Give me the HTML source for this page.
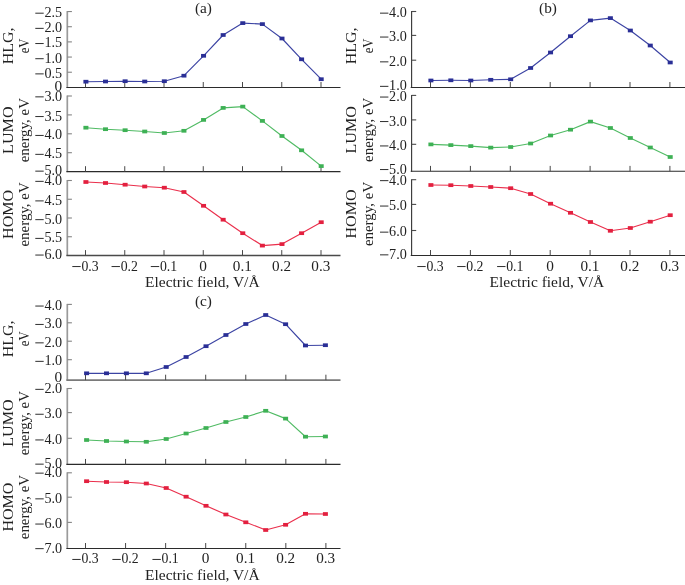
<!DOCTYPE html>
<html><head><meta charset="utf-8"><title>Figure</title>
<style>
html,body{margin:0;padding:0;background:#fff;}
body{width:685px;height:585px;overflow:hidden;}
svg{display:block;will-change:transform;}
svg text{font-family:"Liberation Serif",serif;fill:#222222;}
</style></head><body>
<svg width="685" height="585" viewBox="0 0 685 585">
<rect width="685" height="585" fill="#ffffff"/>
<line x1="67.3" y1="11.05" x2="67.3" y2="87.9" stroke="#9a9a9a" stroke-width="1.7"/>
<line x1="66.39999999999999" y1="87.4" x2="340.5" y2="87.4" stroke="#2b2b2b" stroke-width="1.05"/>
<line x1="67.3" y1="11.55" x2="71.89999999999999" y2="11.55" stroke="#858585" stroke-width="1.1"/>
<line x1="35.30" y1="13.20" x2="43.70" y2="13.20" stroke="#2e2e2e" stroke-width="1"/>
<text x="62.1" y="17.15" text-anchor="end" font-size="15.3" textLength="17.7" lengthAdjust="spacingAndGlyphs">2.5</text>
<line x1="67.3" y1="26.720000000000002" x2="71.89999999999999" y2="26.720000000000002" stroke="#858585" stroke-width="1.1"/>
<line x1="35.30" y1="28.37" x2="43.70" y2="28.37" stroke="#2e2e2e" stroke-width="1"/>
<text x="62.1" y="32.32" text-anchor="end" font-size="15.3" textLength="17.7" lengthAdjust="spacingAndGlyphs">2.0</text>
<line x1="67.3" y1="41.89" x2="71.89999999999999" y2="41.89" stroke="#858585" stroke-width="1.1"/>
<line x1="35.30" y1="43.54" x2="43.70" y2="43.54" stroke="#2e2e2e" stroke-width="1"/>
<text x="62.1" y="47.49" text-anchor="end" font-size="15.3" textLength="17.7" lengthAdjust="spacingAndGlyphs">1.5</text>
<line x1="67.3" y1="57.06" x2="71.89999999999999" y2="57.06" stroke="#858585" stroke-width="1.1"/>
<line x1="35.30" y1="58.71" x2="43.70" y2="58.71" stroke="#2e2e2e" stroke-width="1"/>
<text x="62.1" y="62.66" text-anchor="end" font-size="15.3" textLength="17.7" lengthAdjust="spacingAndGlyphs">1.0</text>
<line x1="67.3" y1="72.23" x2="71.89999999999999" y2="72.23" stroke="#858585" stroke-width="1.1"/>
<line x1="35.30" y1="73.88" x2="43.70" y2="73.88" stroke="#2e2e2e" stroke-width="1"/>
<text x="62.1" y="77.83" text-anchor="end" font-size="15.3" textLength="17.7" lengthAdjust="spacingAndGlyphs">0.5</text>
<text x="62.1" y="90.9" text-anchor="end" font-size="15.3">0</text>
<line x1="85.5" y1="87.4" x2="85.5" y2="82.0" stroke="#484848" stroke-width="1.0"/>
<line x1="124.75" y1="87.4" x2="124.75" y2="82.0" stroke="#484848" stroke-width="1.0"/>
<line x1="164.0" y1="87.4" x2="164.0" y2="82.0" stroke="#484848" stroke-width="1.0"/>
<line x1="203.25" y1="87.4" x2="203.25" y2="82.0" stroke="#484848" stroke-width="1.0"/>
<line x1="242.5" y1="87.4" x2="242.5" y2="82.0" stroke="#484848" stroke-width="1.0"/>
<line x1="281.75" y1="87.4" x2="281.75" y2="82.0" stroke="#484848" stroke-width="1.0"/>
<line x1="321.0" y1="87.4" x2="321.0" y2="82.0" stroke="#484848" stroke-width="1.0"/>
<text x="13.0" y="45.88" text-anchor="middle" font-size="15.3" transform="rotate(-90 13.0 45.88)" textLength="36.9" lengthAdjust="spacingAndGlyphs">HLG,</text>
<text x="29.2" y="45.88" text-anchor="middle" font-size="15.3" transform="rotate(-90 29.2 45.88)" textLength="14.8" lengthAdjust="spacingAndGlyphs">eV</text>
<polyline points="85.9,81.7 105.50833333333334,81.5 125.11666666666667,81.2 144.725,81.5 164.33333333333331,81.2 183.94166666666666,75.7 203.55,55.8 223.15833333333333,35 242.76666666666665,23.1 262.375,24.1 281.98333333333335,38.5 301.59166666666664,59.3 321.2,79.2" fill="none" stroke="#3b43a3" stroke-width="1.15" stroke-linejoin="round"/>
<rect x="83.40" y="79.85" width="5.0" height="3.7" fill="#2a2f96"/>
<rect x="103.01" y="79.65" width="5.0" height="3.7" fill="#2a2f96"/>
<rect x="122.62" y="79.35" width="5.0" height="3.7" fill="#2a2f96"/>
<rect x="142.22" y="79.65" width="5.0" height="3.7" fill="#2a2f96"/>
<rect x="161.83" y="79.35" width="5.0" height="3.7" fill="#2a2f96"/>
<rect x="181.44" y="73.85" width="5.0" height="3.7" fill="#2a2f96"/>
<rect x="201.05" y="53.95" width="5.0" height="3.7" fill="#2a2f96"/>
<rect x="220.66" y="33.15" width="5.0" height="3.7" fill="#2a2f96"/>
<rect x="240.27" y="21.25" width="5.0" height="3.7" fill="#2a2f96"/>
<rect x="259.88" y="22.25" width="5.0" height="3.7" fill="#2a2f96"/>
<rect x="279.48" y="36.65" width="5.0" height="3.7" fill="#2a2f96"/>
<rect x="299.09" y="57.45" width="5.0" height="3.7" fill="#2a2f96"/>
<rect x="318.70" y="77.35" width="5.0" height="3.7" fill="#2a2f96"/>
<line x1="67.3" y1="95.5" x2="67.3" y2="172.1" stroke="#9a9a9a" stroke-width="1.7"/>
<line x1="66.39999999999999" y1="171.6" x2="340.5" y2="171.6" stroke="#2b2b2b" stroke-width="1.05"/>
<line x1="67.3" y1="96.0" x2="71.89999999999999" y2="96.0" stroke="#858585" stroke-width="1.1"/>
<line x1="35.30" y1="96.85" x2="43.70" y2="96.85" stroke="#2e2e2e" stroke-width="1"/>
<text x="62.1" y="100.8" text-anchor="end" font-size="15.3" textLength="17.7" lengthAdjust="spacingAndGlyphs">3.0</text>
<line x1="67.3" y1="114.9" x2="71.89999999999999" y2="114.9" stroke="#858585" stroke-width="1.1"/>
<line x1="35.30" y1="116.55" x2="43.70" y2="116.55" stroke="#2e2e2e" stroke-width="1"/>
<text x="62.1" y="120.5" text-anchor="end" font-size="15.3" textLength="17.7" lengthAdjust="spacingAndGlyphs">3.5</text>
<line x1="67.3" y1="133.8" x2="71.89999999999999" y2="133.8" stroke="#858585" stroke-width="1.1"/>
<line x1="35.30" y1="135.45" x2="43.70" y2="135.45" stroke="#2e2e2e" stroke-width="1"/>
<text x="62.1" y="139.4" text-anchor="end" font-size="15.3" textLength="17.7" lengthAdjust="spacingAndGlyphs">4.0</text>
<line x1="67.3" y1="152.7" x2="71.89999999999999" y2="152.7" stroke="#858585" stroke-width="1.1"/>
<line x1="35.30" y1="154.35" x2="43.70" y2="154.35" stroke="#2e2e2e" stroke-width="1"/>
<text x="62.1" y="158.3" text-anchor="end" font-size="15.3" textLength="17.7" lengthAdjust="spacingAndGlyphs">4.5</text>
<line x1="35.30" y1="171.15" x2="43.70" y2="171.15" stroke="#2e2e2e" stroke-width="1"/>
<text x="62.1" y="175.1" text-anchor="end" font-size="15.3" textLength="17.7" lengthAdjust="spacingAndGlyphs">5.0</text>
<line x1="85.5" y1="171.6" x2="85.5" y2="166.2" stroke="#484848" stroke-width="1.0"/>
<line x1="124.75" y1="171.6" x2="124.75" y2="166.2" stroke="#484848" stroke-width="1.0"/>
<line x1="164.0" y1="171.6" x2="164.0" y2="166.2" stroke="#484848" stroke-width="1.0"/>
<line x1="203.25" y1="171.6" x2="203.25" y2="166.2" stroke="#484848" stroke-width="1.0"/>
<line x1="242.5" y1="171.6" x2="242.5" y2="166.2" stroke="#484848" stroke-width="1.0"/>
<line x1="281.75" y1="171.6" x2="281.75" y2="166.2" stroke="#484848" stroke-width="1.0"/>
<line x1="321.0" y1="171.6" x2="321.0" y2="166.2" stroke="#484848" stroke-width="1.0"/>
<text x="13.0" y="130.2" text-anchor="middle" font-size="15.3" transform="rotate(-90 13.0 130.2)" textLength="47.4" lengthAdjust="spacingAndGlyphs">LUMO</text>
<text x="29.2" y="130.2" text-anchor="middle" font-size="15.3" transform="rotate(-90 29.2 130.2)" textLength="64.3" lengthAdjust="spacingAndGlyphs">energy, eV</text>
<polyline points="85.9,127.7 105.50833333333334,129.2 125.11666666666667,130.2 144.725,131.5 164.33333333333331,133 183.94166666666666,130.8 203.55,119.9 223.15833333333333,107.9 242.76666666666665,106.6 262.375,120.9 281.98333333333335,136 301.59166666666664,150.3 321.2,166.1" fill="none" stroke="#50bb64" stroke-width="1.15" stroke-linejoin="round"/>
<rect x="83.40" y="125.85" width="5.0" height="3.7" fill="#3eb155"/>
<rect x="103.01" y="127.35" width="5.0" height="3.7" fill="#3eb155"/>
<rect x="122.62" y="128.35" width="5.0" height="3.7" fill="#3eb155"/>
<rect x="142.22" y="129.65" width="5.0" height="3.7" fill="#3eb155"/>
<rect x="161.83" y="131.15" width="5.0" height="3.7" fill="#3eb155"/>
<rect x="181.44" y="128.95" width="5.0" height="3.7" fill="#3eb155"/>
<rect x="201.05" y="118.05" width="5.0" height="3.7" fill="#3eb155"/>
<rect x="220.66" y="106.05" width="5.0" height="3.7" fill="#3eb155"/>
<rect x="240.27" y="104.75" width="5.0" height="3.7" fill="#3eb155"/>
<rect x="259.88" y="119.05" width="5.0" height="3.7" fill="#3eb155"/>
<rect x="279.48" y="134.15" width="5.0" height="3.7" fill="#3eb155"/>
<rect x="299.09" y="148.45" width="5.0" height="3.7" fill="#3eb155"/>
<rect x="318.70" y="164.25" width="5.0" height="3.7" fill="#3eb155"/>
<line x1="67.3" y1="180.0" x2="67.3" y2="256.0" stroke="#9a9a9a" stroke-width="1.7"/>
<line x1="66.39999999999999" y1="255.5" x2="340.5" y2="255.5" stroke="#4a4a4a" stroke-width="1.3"/>
<line x1="67.3" y1="180.5" x2="71.89999999999999" y2="180.5" stroke="#858585" stroke-width="1.1"/>
<line x1="35.30" y1="181.35" x2="43.70" y2="181.35" stroke="#2e2e2e" stroke-width="1"/>
<text x="62.1" y="185.3" text-anchor="end" font-size="15.3" textLength="17.7" lengthAdjust="spacingAndGlyphs">4.0</text>
<line x1="67.3" y1="199.25" x2="71.89999999999999" y2="199.25" stroke="#858585" stroke-width="1.1"/>
<line x1="35.30" y1="200.90" x2="43.70" y2="200.90" stroke="#2e2e2e" stroke-width="1"/>
<text x="62.1" y="204.85" text-anchor="end" font-size="15.3" textLength="17.7" lengthAdjust="spacingAndGlyphs">4.5</text>
<line x1="67.3" y1="218.0" x2="71.89999999999999" y2="218.0" stroke="#858585" stroke-width="1.1"/>
<line x1="35.30" y1="219.65" x2="43.70" y2="219.65" stroke="#2e2e2e" stroke-width="1"/>
<text x="62.1" y="223.6" text-anchor="end" font-size="15.3" textLength="17.7" lengthAdjust="spacingAndGlyphs">5.0</text>
<line x1="67.3" y1="236.75" x2="71.89999999999999" y2="236.75" stroke="#858585" stroke-width="1.1"/>
<line x1="35.30" y1="238.40" x2="43.70" y2="238.40" stroke="#2e2e2e" stroke-width="1"/>
<text x="62.1" y="242.35" text-anchor="end" font-size="15.3" textLength="17.7" lengthAdjust="spacingAndGlyphs">5.5</text>
<line x1="35.30" y1="255.05" x2="43.70" y2="255.05" stroke="#2e2e2e" stroke-width="1"/>
<text x="62.1" y="259.0" text-anchor="end" font-size="15.3" textLength="17.7" lengthAdjust="spacingAndGlyphs">6.0</text>
<line x1="85.5" y1="255.5" x2="85.5" y2="250.1" stroke="#484848" stroke-width="1.0"/>
<line x1="124.75" y1="255.5" x2="124.75" y2="250.1" stroke="#484848" stroke-width="1.0"/>
<line x1="164.0" y1="255.5" x2="164.0" y2="250.1" stroke="#484848" stroke-width="1.0"/>
<line x1="203.25" y1="255.5" x2="203.25" y2="250.1" stroke="#484848" stroke-width="1.0"/>
<line x1="242.5" y1="255.5" x2="242.5" y2="250.1" stroke="#484848" stroke-width="1.0"/>
<line x1="281.75" y1="255.5" x2="281.75" y2="250.1" stroke="#484848" stroke-width="1.0"/>
<line x1="321.0" y1="255.5" x2="321.0" y2="250.1" stroke="#484848" stroke-width="1.0"/>
<text x="13.0" y="214.4" text-anchor="middle" font-size="15.3" transform="rotate(-90 13.0 214.4)" textLength="49.0" lengthAdjust="spacingAndGlyphs">HOMO</text>
<text x="29.2" y="214.4" text-anchor="middle" font-size="15.3" transform="rotate(-90 29.2 214.4)" textLength="64.3" lengthAdjust="spacingAndGlyphs">energy, eV</text>
<polyline points="85.9,182 105.50833333333334,183 125.11666666666667,184.7 144.725,186.5 164.33333333333331,187.7 183.94166666666666,192 203.55,205.8 223.15833333333333,219.7 242.76666666666665,233.2 262.375,245.6 281.98333333333335,244.1 301.59166666666664,233.2 321.2,222.2" fill="none" stroke="#ea2f4c" stroke-width="1.15" stroke-linejoin="round"/>
<rect x="83.40" y="180.15" width="5.0" height="3.7" fill="#e3203f"/>
<rect x="103.01" y="181.15" width="5.0" height="3.7" fill="#e3203f"/>
<rect x="122.62" y="182.85" width="5.0" height="3.7" fill="#e3203f"/>
<rect x="142.22" y="184.65" width="5.0" height="3.7" fill="#e3203f"/>
<rect x="161.83" y="185.85" width="5.0" height="3.7" fill="#e3203f"/>
<rect x="181.44" y="190.15" width="5.0" height="3.7" fill="#e3203f"/>
<rect x="201.05" y="203.95" width="5.0" height="3.7" fill="#e3203f"/>
<rect x="220.66" y="217.85" width="5.0" height="3.7" fill="#e3203f"/>
<rect x="240.27" y="231.35" width="5.0" height="3.7" fill="#e3203f"/>
<rect x="259.88" y="243.75" width="5.0" height="3.7" fill="#e3203f"/>
<rect x="279.48" y="242.25" width="5.0" height="3.7" fill="#e3203f"/>
<rect x="299.09" y="231.35" width="5.0" height="3.7" fill="#e3203f"/>
<rect x="318.70" y="220.35" width="5.0" height="3.7" fill="#e3203f"/>
<line x1="72.30" y1="266.55" x2="80.70" y2="266.55" stroke="#2e2e2e" stroke-width="1"/>
<text x="98.6" y="270.5" text-anchor="end" font-size="15.3" textLength="17.2" lengthAdjust="spacingAndGlyphs">0.3</text>
<line x1="111.55" y1="266.55" x2="119.95" y2="266.55" stroke="#2e2e2e" stroke-width="1"/>
<text x="137.85" y="270.5" text-anchor="end" font-size="15.3" textLength="17.2" lengthAdjust="spacingAndGlyphs">0.2</text>
<line x1="150.80" y1="266.55" x2="159.20" y2="266.55" stroke="#2e2e2e" stroke-width="1"/>
<text x="177.1" y="270.5" text-anchor="end" font-size="15.3" textLength="17.2" lengthAdjust="spacingAndGlyphs">0.1</text>
<text x="203.05" y="270.5" text-anchor="middle" font-size="15.3">0</text>
<text x="242.3" y="270.5" text-anchor="middle" font-size="15.3" textLength="19.0" lengthAdjust="spacingAndGlyphs">0.1</text>
<text x="281.55" y="270.5" text-anchor="middle" font-size="15.3" textLength="19.0" lengthAdjust="spacingAndGlyphs">0.2</text>
<text x="320.8" y="270.5" text-anchor="middle" font-size="15.3" textLength="19.0" lengthAdjust="spacingAndGlyphs">0.3</text>
<text x="202.3" y="286.6" text-anchor="middle" font-size="15.3" textLength="114.6" lengthAdjust="spacingAndGlyphs">Electric field, V/Å</text>
<text x="203.4" y="13.0" text-anchor="middle" font-size="15.3">(a)</text>
<line x1="411.6" y1="11.0" x2="411.6" y2="87.9" stroke="#3a3a3a" stroke-width="1.15"/>
<line x1="410.70000000000005" y1="87.4" x2="685" y2="87.4" stroke="#2b2b2b" stroke-width="1.05"/>
<line x1="411.6" y1="11.5" x2="416.20000000000005" y2="11.5" stroke="#4a4a4a" stroke-width="1.1"/>
<line x1="380.00" y1="13.15" x2="388.40" y2="13.15" stroke="#2e2e2e" stroke-width="1"/>
<text x="406.8" y="17.1" text-anchor="end" font-size="15.3" textLength="17.7" lengthAdjust="spacingAndGlyphs">4.0</text>
<line x1="411.6" y1="35.4" x2="416.20000000000005" y2="35.4" stroke="#4a4a4a" stroke-width="1.1"/>
<line x1="380.00" y1="37.05" x2="388.40" y2="37.05" stroke="#2e2e2e" stroke-width="1"/>
<text x="406.8" y="41.0" text-anchor="end" font-size="15.3" textLength="17.7" lengthAdjust="spacingAndGlyphs">3.0</text>
<line x1="411.6" y1="60.2" x2="416.20000000000005" y2="60.2" stroke="#4a4a4a" stroke-width="1.1"/>
<line x1="380.00" y1="61.85" x2="388.40" y2="61.85" stroke="#2e2e2e" stroke-width="1"/>
<text x="406.8" y="65.8" text-anchor="end" font-size="15.3" textLength="17.7" lengthAdjust="spacingAndGlyphs">2.0</text>
<line x1="380.00" y1="86.35" x2="388.40" y2="86.35" stroke="#2e2e2e" stroke-width="1"/>
<text x="406.8" y="90.3" text-anchor="end" font-size="15.3" textLength="17.7" lengthAdjust="spacingAndGlyphs">1.0</text>
<line x1="430.5" y1="87.4" x2="430.5" y2="82.0" stroke="#484848" stroke-width="1.0"/>
<line x1="470.4" y1="87.4" x2="470.4" y2="82.0" stroke="#484848" stroke-width="1.0"/>
<line x1="510.3" y1="87.4" x2="510.3" y2="82.0" stroke="#484848" stroke-width="1.0"/>
<line x1="550.2" y1="87.4" x2="550.2" y2="82.0" stroke="#484848" stroke-width="1.0"/>
<line x1="590.1" y1="87.4" x2="590.1" y2="82.0" stroke="#484848" stroke-width="1.0"/>
<line x1="630.0" y1="87.4" x2="630.0" y2="82.0" stroke="#484848" stroke-width="1.0"/>
<line x1="669.9" y1="87.4" x2="669.9" y2="82.0" stroke="#484848" stroke-width="1.0"/>
<text x="356.4" y="45.85" text-anchor="middle" font-size="15.3" transform="rotate(-90 356.4 45.85)" textLength="36.9" lengthAdjust="spacingAndGlyphs">HLG,</text>
<text x="372.6" y="45.85" text-anchor="middle" font-size="15.3" transform="rotate(-90 372.6 45.85)" textLength="14.8" lengthAdjust="spacingAndGlyphs">eV</text>
<polyline points="430.9,80.5 450.84166666666664,80.3 470.7833333333333,80.5 490.725,79.8 510.6666666666667,79.3 530.6083333333333,68 550.55,52.5 570.4916666666667,36.2 590.4333333333334,20.4 610.375,18.1 630.3166666666667,30.5 650.2583333333333,45.5 670.2,62.5" fill="none" stroke="#3b43a3" stroke-width="1.15" stroke-linejoin="round"/>
<rect x="428.40" y="78.65" width="5.0" height="3.7" fill="#2a2f96"/>
<rect x="448.34" y="78.45" width="5.0" height="3.7" fill="#2a2f96"/>
<rect x="468.28" y="78.65" width="5.0" height="3.7" fill="#2a2f96"/>
<rect x="488.23" y="77.95" width="5.0" height="3.7" fill="#2a2f96"/>
<rect x="508.17" y="77.45" width="5.0" height="3.7" fill="#2a2f96"/>
<rect x="528.11" y="66.15" width="5.0" height="3.7" fill="#2a2f96"/>
<rect x="548.05" y="50.65" width="5.0" height="3.7" fill="#2a2f96"/>
<rect x="567.99" y="34.35" width="5.0" height="3.7" fill="#2a2f96"/>
<rect x="587.93" y="18.55" width="5.0" height="3.7" fill="#2a2f96"/>
<rect x="607.88" y="16.25" width="5.0" height="3.7" fill="#2a2f96"/>
<rect x="627.82" y="28.65" width="5.0" height="3.7" fill="#2a2f96"/>
<rect x="647.76" y="43.65" width="5.0" height="3.7" fill="#2a2f96"/>
<rect x="667.70" y="60.65" width="5.0" height="3.7" fill="#2a2f96"/>
<line x1="411.6" y1="94.9" x2="411.6" y2="171.8" stroke="#3a3a3a" stroke-width="1.15"/>
<line x1="410.70000000000005" y1="171.3" x2="685" y2="171.3" stroke="#2b2b2b" stroke-width="1.05"/>
<line x1="411.6" y1="95.4" x2="416.20000000000005" y2="95.4" stroke="#4a4a4a" stroke-width="1.1"/>
<line x1="380.00" y1="97.05" x2="388.40" y2="97.05" stroke="#2e2e2e" stroke-width="1"/>
<text x="406.8" y="101.0" text-anchor="end" font-size="15.3" textLength="17.7" lengthAdjust="spacingAndGlyphs">2.0</text>
<line x1="411.6" y1="119.9" x2="416.20000000000005" y2="119.9" stroke="#4a4a4a" stroke-width="1.1"/>
<line x1="380.00" y1="121.55" x2="388.40" y2="121.55" stroke="#2e2e2e" stroke-width="1"/>
<text x="406.8" y="125.5" text-anchor="end" font-size="15.3" textLength="17.7" lengthAdjust="spacingAndGlyphs">3.0</text>
<line x1="411.6" y1="144.3" x2="416.20000000000005" y2="144.3" stroke="#4a4a4a" stroke-width="1.1"/>
<line x1="380.00" y1="145.95" x2="388.40" y2="145.95" stroke="#2e2e2e" stroke-width="1"/>
<text x="406.8" y="149.9" text-anchor="end" font-size="15.3" textLength="17.7" lengthAdjust="spacingAndGlyphs">4.0</text>
<line x1="380.00" y1="169.55" x2="388.40" y2="169.55" stroke="#2e2e2e" stroke-width="1"/>
<text x="406.8" y="173.5" text-anchor="end" font-size="15.3" textLength="17.7" lengthAdjust="spacingAndGlyphs">5.0</text>
<line x1="430.5" y1="171.3" x2="430.5" y2="165.9" stroke="#484848" stroke-width="1.0"/>
<line x1="470.4" y1="171.3" x2="470.4" y2="165.9" stroke="#484848" stroke-width="1.0"/>
<line x1="510.3" y1="171.3" x2="510.3" y2="165.9" stroke="#484848" stroke-width="1.0"/>
<line x1="550.2" y1="171.3" x2="550.2" y2="165.9" stroke="#484848" stroke-width="1.0"/>
<line x1="590.1" y1="171.3" x2="590.1" y2="165.9" stroke="#484848" stroke-width="1.0"/>
<line x1="630.0" y1="171.3" x2="630.0" y2="165.9" stroke="#484848" stroke-width="1.0"/>
<line x1="669.9" y1="171.3" x2="669.9" y2="165.9" stroke="#484848" stroke-width="1.0"/>
<text x="356.4" y="129.75" text-anchor="middle" font-size="15.3" transform="rotate(-90 356.4 129.75)" textLength="47.4" lengthAdjust="spacingAndGlyphs">LUMO</text>
<text x="372.6" y="129.75" text-anchor="middle" font-size="15.3" transform="rotate(-90 372.6 129.75)" textLength="64.3" lengthAdjust="spacingAndGlyphs">energy, eV</text>
<polyline points="430.9,144.4 450.84166666666664,145.1 470.7833333333333,146.1 490.725,147.6 510.6666666666667,147.0 530.6083333333333,143.5 550.55,135.5 570.4916666666667,129.7 590.4333333333334,121.6 610.375,128 630.3166666666667,138 650.2583333333333,147.5 670.2,157" fill="none" stroke="#50bb64" stroke-width="1.15" stroke-linejoin="round"/>
<rect x="428.40" y="142.55" width="5.0" height="3.7" fill="#3eb155"/>
<rect x="448.34" y="143.25" width="5.0" height="3.7" fill="#3eb155"/>
<rect x="468.28" y="144.25" width="5.0" height="3.7" fill="#3eb155"/>
<rect x="488.23" y="145.75" width="5.0" height="3.7" fill="#3eb155"/>
<rect x="508.17" y="145.15" width="5.0" height="3.7" fill="#3eb155"/>
<rect x="528.11" y="141.65" width="5.0" height="3.7" fill="#3eb155"/>
<rect x="548.05" y="133.65" width="5.0" height="3.7" fill="#3eb155"/>
<rect x="567.99" y="127.85" width="5.0" height="3.7" fill="#3eb155"/>
<rect x="587.93" y="119.75" width="5.0" height="3.7" fill="#3eb155"/>
<rect x="607.88" y="126.15" width="5.0" height="3.7" fill="#3eb155"/>
<rect x="627.82" y="136.15" width="5.0" height="3.7" fill="#3eb155"/>
<rect x="647.76" y="145.65" width="5.0" height="3.7" fill="#3eb155"/>
<rect x="667.70" y="155.15" width="5.0" height="3.7" fill="#3eb155"/>
<line x1="411.6" y1="179.2" x2="411.6" y2="255.9" stroke="#3a3a3a" stroke-width="1.15"/>
<line x1="410.70000000000005" y1="255.4" x2="685" y2="255.4" stroke="#2b2b2b" stroke-width="1.05"/>
<line x1="411.6" y1="179.7" x2="416.20000000000005" y2="179.7" stroke="#4a4a4a" stroke-width="1.1"/>
<line x1="380.00" y1="180.65" x2="388.40" y2="180.65" stroke="#2e2e2e" stroke-width="1"/>
<text x="406.8" y="184.6" text-anchor="end" font-size="15.3" textLength="17.7" lengthAdjust="spacingAndGlyphs">4.0</text>
<line x1="411.6" y1="204.4" x2="416.20000000000005" y2="204.4" stroke="#4a4a4a" stroke-width="1.1"/>
<line x1="380.00" y1="206.05" x2="388.40" y2="206.05" stroke="#2e2e2e" stroke-width="1"/>
<text x="406.8" y="210.0" text-anchor="end" font-size="15.3" textLength="17.7" lengthAdjust="spacingAndGlyphs">5.0</text>
<line x1="411.6" y1="230.5" x2="416.20000000000005" y2="230.5" stroke="#4a4a4a" stroke-width="1.1"/>
<line x1="380.00" y1="232.15" x2="388.40" y2="232.15" stroke="#2e2e2e" stroke-width="1"/>
<text x="406.8" y="236.1" text-anchor="end" font-size="15.3" textLength="17.7" lengthAdjust="spacingAndGlyphs">6.0</text>
<line x1="380.00" y1="254.85" x2="388.40" y2="254.85" stroke="#2e2e2e" stroke-width="1"/>
<text x="406.8" y="258.8" text-anchor="end" font-size="15.3" textLength="17.7" lengthAdjust="spacingAndGlyphs">7.0</text>
<line x1="430.5" y1="255.4" x2="430.5" y2="250.0" stroke="#484848" stroke-width="1.0"/>
<line x1="470.4" y1="255.4" x2="470.4" y2="250.0" stroke="#484848" stroke-width="1.0"/>
<line x1="510.3" y1="255.4" x2="510.3" y2="250.0" stroke="#484848" stroke-width="1.0"/>
<line x1="550.2" y1="255.4" x2="550.2" y2="250.0" stroke="#484848" stroke-width="1.0"/>
<line x1="590.1" y1="255.4" x2="590.1" y2="250.0" stroke="#484848" stroke-width="1.0"/>
<line x1="630.0" y1="255.4" x2="630.0" y2="250.0" stroke="#484848" stroke-width="1.0"/>
<line x1="669.9" y1="255.4" x2="669.9" y2="250.0" stroke="#484848" stroke-width="1.0"/>
<text x="356.4" y="213.95" text-anchor="middle" font-size="15.3" transform="rotate(-90 356.4 213.95)" textLength="49.0" lengthAdjust="spacingAndGlyphs">HOMO</text>
<text x="372.6" y="213.95" text-anchor="middle" font-size="15.3" transform="rotate(-90 372.6 213.95)" textLength="64.3" lengthAdjust="spacingAndGlyphs">energy, eV</text>
<polyline points="430.9,185 450.84166666666664,185.2 470.7833333333333,186 490.725,187 510.6666666666667,188.2 530.6083333333333,194 550.55,203.7 570.4916666666667,212.8 590.4333333333334,222 610.375,230.8 630.3166666666667,228 650.2583333333333,221.7 670.2,215.2" fill="none" stroke="#ea2f4c" stroke-width="1.15" stroke-linejoin="round"/>
<rect x="428.40" y="183.15" width="5.0" height="3.7" fill="#e3203f"/>
<rect x="448.34" y="183.35" width="5.0" height="3.7" fill="#e3203f"/>
<rect x="468.28" y="184.15" width="5.0" height="3.7" fill="#e3203f"/>
<rect x="488.23" y="185.15" width="5.0" height="3.7" fill="#e3203f"/>
<rect x="508.17" y="186.35" width="5.0" height="3.7" fill="#e3203f"/>
<rect x="528.11" y="192.15" width="5.0" height="3.7" fill="#e3203f"/>
<rect x="548.05" y="201.85" width="5.0" height="3.7" fill="#e3203f"/>
<rect x="567.99" y="210.95" width="5.0" height="3.7" fill="#e3203f"/>
<rect x="587.93" y="220.15" width="5.0" height="3.7" fill="#e3203f"/>
<rect x="607.88" y="228.95" width="5.0" height="3.7" fill="#e3203f"/>
<rect x="627.82" y="226.15" width="5.0" height="3.7" fill="#e3203f"/>
<rect x="647.76" y="219.85" width="5.0" height="3.7" fill="#e3203f"/>
<rect x="667.70" y="213.35" width="5.0" height="3.7" fill="#e3203f"/>
<line x1="417.30" y1="266.55" x2="425.70" y2="266.55" stroke="#2e2e2e" stroke-width="1"/>
<text x="443.6" y="270.5" text-anchor="end" font-size="15.3" textLength="17.2" lengthAdjust="spacingAndGlyphs">0.3</text>
<line x1="457.20" y1="266.55" x2="465.60" y2="266.55" stroke="#2e2e2e" stroke-width="1"/>
<text x="483.5" y="270.5" text-anchor="end" font-size="15.3" textLength="17.2" lengthAdjust="spacingAndGlyphs">0.2</text>
<line x1="497.10" y1="266.55" x2="505.50" y2="266.55" stroke="#2e2e2e" stroke-width="1"/>
<text x="523.4" y="270.5" text-anchor="end" font-size="15.3" textLength="17.2" lengthAdjust="spacingAndGlyphs">0.1</text>
<text x="550.0" y="270.5" text-anchor="middle" font-size="15.3">0</text>
<text x="589.9" y="270.5" text-anchor="middle" font-size="15.3" textLength="19.0" lengthAdjust="spacingAndGlyphs">0.1</text>
<text x="629.8" y="270.5" text-anchor="middle" font-size="15.3" textLength="19.0" lengthAdjust="spacingAndGlyphs">0.2</text>
<text x="669.7" y="270.5" text-anchor="middle" font-size="15.3" textLength="19.0" lengthAdjust="spacingAndGlyphs">0.3</text>
<text x="546.9" y="287.4" text-anchor="middle" font-size="15.3" textLength="114.6" lengthAdjust="spacingAndGlyphs">Electric field, V/Å</text>
<text x="548" y="13.0" text-anchor="middle" font-size="15.3">(b)</text>
<line x1="67.3" y1="303.9" x2="67.3" y2="380.6" stroke="#9a9a9a" stroke-width="1.7"/>
<line x1="66.39999999999999" y1="380.1" x2="340.5" y2="380.1" stroke="#7a7a7a" stroke-width="1.8"/>
<line x1="67.3" y1="304.4" x2="71.89999999999999" y2="304.4" stroke="#858585" stroke-width="1.1"/>
<line x1="35.30" y1="306.05" x2="43.70" y2="306.05" stroke="#2e2e2e" stroke-width="1"/>
<text x="62.1" y="310.0" text-anchor="end" font-size="15.3" textLength="17.7" lengthAdjust="spacingAndGlyphs">4.0</text>
<line x1="67.3" y1="322.8" x2="71.89999999999999" y2="322.8" stroke="#858585" stroke-width="1.1"/>
<line x1="35.30" y1="324.45" x2="43.70" y2="324.45" stroke="#2e2e2e" stroke-width="1"/>
<text x="62.1" y="328.4" text-anchor="end" font-size="15.3" textLength="17.7" lengthAdjust="spacingAndGlyphs">3.0</text>
<line x1="67.3" y1="341.2" x2="71.89999999999999" y2="341.2" stroke="#858585" stroke-width="1.1"/>
<line x1="35.30" y1="342.85" x2="43.70" y2="342.85" stroke="#2e2e2e" stroke-width="1"/>
<text x="62.1" y="346.8" text-anchor="end" font-size="15.3" textLength="17.7" lengthAdjust="spacingAndGlyphs">2.0</text>
<line x1="67.3" y1="359.7" x2="71.89999999999999" y2="359.7" stroke="#858585" stroke-width="1.1"/>
<line x1="35.30" y1="361.35" x2="43.70" y2="361.35" stroke="#2e2e2e" stroke-width="1"/>
<text x="62.1" y="365.3" text-anchor="end" font-size="15.3" textLength="17.7" lengthAdjust="spacingAndGlyphs">1.0</text>
<text x="62.1" y="382.1" text-anchor="end" font-size="15.3">0</text>
<line x1="85.5" y1="380.1" x2="85.5" y2="374.70000000000005" stroke="#484848" stroke-width="1.0"/>
<line x1="125.56666666666666" y1="380.1" x2="125.56666666666666" y2="374.70000000000005" stroke="#484848" stroke-width="1.0"/>
<line x1="165.63333333333333" y1="380.1" x2="165.63333333333333" y2="374.70000000000005" stroke="#484848" stroke-width="1.0"/>
<line x1="205.7" y1="380.1" x2="205.7" y2="374.70000000000005" stroke="#484848" stroke-width="1.0"/>
<line x1="245.76666666666665" y1="380.1" x2="245.76666666666665" y2="374.70000000000005" stroke="#484848" stroke-width="1.0"/>
<line x1="285.83333333333337" y1="380.1" x2="285.83333333333337" y2="374.70000000000005" stroke="#484848" stroke-width="1.0"/>
<line x1="325.9" y1="380.1" x2="325.9" y2="374.70000000000005" stroke="#484848" stroke-width="1.0"/>
<text x="13.0" y="338.85" text-anchor="middle" font-size="15.3" transform="rotate(-90 13.0 338.85)" textLength="36.9" lengthAdjust="spacingAndGlyphs">HLG,</text>
<text x="29.2" y="338.85" text-anchor="middle" font-size="15.3" transform="rotate(-90 29.2 338.85)" textLength="14.8" lengthAdjust="spacingAndGlyphs">eV</text>
<polyline points="86.6,373.3 106.5,373.3 126.39999999999999,373.3 146.29999999999998,373.3 166.2,367 186.1,357 206.0,346.2 225.89999999999998,335 245.79999999999998,324 265.7,315 285.6,324.2 305.5,345.5 325.4,345.2" fill="none" stroke="#3b43a3" stroke-width="1.15" stroke-linejoin="round"/>
<rect x="84.10" y="371.45" width="5.0" height="3.7" fill="#2a2f96"/>
<rect x="104.00" y="371.45" width="5.0" height="3.7" fill="#2a2f96"/>
<rect x="123.90" y="371.45" width="5.0" height="3.7" fill="#2a2f96"/>
<rect x="143.80" y="371.45" width="5.0" height="3.7" fill="#2a2f96"/>
<rect x="163.70" y="365.15" width="5.0" height="3.7" fill="#2a2f96"/>
<rect x="183.60" y="355.15" width="5.0" height="3.7" fill="#2a2f96"/>
<rect x="203.50" y="344.35" width="5.0" height="3.7" fill="#2a2f96"/>
<rect x="223.40" y="333.15" width="5.0" height="3.7" fill="#2a2f96"/>
<rect x="243.30" y="322.15" width="5.0" height="3.7" fill="#2a2f96"/>
<rect x="263.20" y="313.15" width="5.0" height="3.7" fill="#2a2f96"/>
<rect x="283.10" y="322.35" width="5.0" height="3.7" fill="#2a2f96"/>
<rect x="303.00" y="343.65" width="5.0" height="3.7" fill="#2a2f96"/>
<rect x="322.90" y="343.35" width="5.0" height="3.7" fill="#2a2f96"/>
<line x1="67.3" y1="388.0" x2="67.3" y2="464.85" stroke="#9a9a9a" stroke-width="1.7"/>
<line x1="66.39999999999999" y1="464.35" x2="340.5" y2="464.35" stroke="#2b2b2b" stroke-width="1.05"/>
<line x1="67.3" y1="388.5" x2="71.89999999999999" y2="388.5" stroke="#858585" stroke-width="1.1"/>
<line x1="35.30" y1="389.35" x2="43.70" y2="389.35" stroke="#2e2e2e" stroke-width="1"/>
<text x="62.1" y="393.3" text-anchor="end" font-size="15.3" textLength="17.7" lengthAdjust="spacingAndGlyphs">2.0</text>
<line x1="67.3" y1="412.6" x2="71.89999999999999" y2="412.6" stroke="#858585" stroke-width="1.1"/>
<line x1="35.30" y1="414.25" x2="43.70" y2="414.25" stroke="#2e2e2e" stroke-width="1"/>
<text x="62.1" y="418.2" text-anchor="end" font-size="15.3" textLength="17.7" lengthAdjust="spacingAndGlyphs">3.0</text>
<line x1="67.3" y1="438.3" x2="71.89999999999999" y2="438.3" stroke="#858585" stroke-width="1.1"/>
<line x1="35.30" y1="439.95" x2="43.70" y2="439.95" stroke="#2e2e2e" stroke-width="1"/>
<text x="62.1" y="443.9" text-anchor="end" font-size="15.3" textLength="17.7" lengthAdjust="spacingAndGlyphs">4.0</text>
<line x1="35.30" y1="464.15" x2="43.70" y2="464.15" stroke="#2e2e2e" stroke-width="1"/>
<text x="62.1" y="468.1" text-anchor="end" font-size="15.3" textLength="17.7" lengthAdjust="spacingAndGlyphs">5.0</text>
<line x1="85.5" y1="464.35" x2="85.5" y2="458.95000000000005" stroke="#484848" stroke-width="1.0"/>
<line x1="125.56666666666666" y1="464.35" x2="125.56666666666666" y2="458.95000000000005" stroke="#484848" stroke-width="1.0"/>
<line x1="165.63333333333333" y1="464.35" x2="165.63333333333333" y2="458.95000000000005" stroke="#484848" stroke-width="1.0"/>
<line x1="205.7" y1="464.35" x2="205.7" y2="458.95000000000005" stroke="#484848" stroke-width="1.0"/>
<line x1="245.76666666666665" y1="464.35" x2="245.76666666666665" y2="458.95000000000005" stroke="#484848" stroke-width="1.0"/>
<line x1="285.83333333333337" y1="464.35" x2="285.83333333333337" y2="458.95000000000005" stroke="#484848" stroke-width="1.0"/>
<line x1="325.9" y1="464.35" x2="325.9" y2="458.95000000000005" stroke="#484848" stroke-width="1.0"/>
<text x="13.0" y="423.12" text-anchor="middle" font-size="15.3" transform="rotate(-90 13.0 423.12)" textLength="47.4" lengthAdjust="spacingAndGlyphs">LUMO</text>
<text x="29.2" y="423.12" text-anchor="middle" font-size="15.3" transform="rotate(-90 29.2 423.12)" textLength="64.3" lengthAdjust="spacingAndGlyphs">energy, eV</text>
<polyline points="86.6,440 106.5,441 126.39999999999999,441.5 146.29999999999998,441.8 166.2,439 186.1,433.5 206.0,428 225.89999999999998,422 245.79999999999998,417 265.7,410.8 285.6,418.6 305.5,436.7 325.4,436.5" fill="none" stroke="#50bb64" stroke-width="1.15" stroke-linejoin="round"/>
<rect x="84.10" y="438.15" width="5.0" height="3.7" fill="#3eb155"/>
<rect x="104.00" y="439.15" width="5.0" height="3.7" fill="#3eb155"/>
<rect x="123.90" y="439.65" width="5.0" height="3.7" fill="#3eb155"/>
<rect x="143.80" y="439.95" width="5.0" height="3.7" fill="#3eb155"/>
<rect x="163.70" y="437.15" width="5.0" height="3.7" fill="#3eb155"/>
<rect x="183.60" y="431.65" width="5.0" height="3.7" fill="#3eb155"/>
<rect x="203.50" y="426.15" width="5.0" height="3.7" fill="#3eb155"/>
<rect x="223.40" y="420.15" width="5.0" height="3.7" fill="#3eb155"/>
<rect x="243.30" y="415.15" width="5.0" height="3.7" fill="#3eb155"/>
<rect x="263.20" y="408.95" width="5.0" height="3.7" fill="#3eb155"/>
<rect x="283.10" y="416.75" width="5.0" height="3.7" fill="#3eb155"/>
<rect x="303.00" y="434.85" width="5.0" height="3.7" fill="#3eb155"/>
<rect x="322.90" y="434.65" width="5.0" height="3.7" fill="#3eb155"/>
<line x1="67.3" y1="472.3" x2="67.3" y2="548.9" stroke="#9a9a9a" stroke-width="1.7"/>
<line x1="66.39999999999999" y1="548.4" x2="340.5" y2="548.4" stroke="#2b2b2b" stroke-width="1.05"/>
<line x1="67.3" y1="472.8" x2="71.89999999999999" y2="472.8" stroke="#858585" stroke-width="1.1"/>
<line x1="35.30" y1="473.15" x2="43.70" y2="473.15" stroke="#2e2e2e" stroke-width="1"/>
<text x="62.1" y="477.1" text-anchor="end" font-size="15.3" textLength="17.7" lengthAdjust="spacingAndGlyphs">4.0</text>
<line x1="67.3" y1="497.2" x2="71.89999999999999" y2="497.2" stroke="#858585" stroke-width="1.1"/>
<line x1="35.30" y1="498.85" x2="43.70" y2="498.85" stroke="#2e2e2e" stroke-width="1"/>
<text x="62.1" y="502.8" text-anchor="end" font-size="15.3" textLength="17.7" lengthAdjust="spacingAndGlyphs">5.0</text>
<line x1="67.3" y1="522.4" x2="71.89999999999999" y2="522.4" stroke="#858585" stroke-width="1.1"/>
<line x1="35.30" y1="524.05" x2="43.70" y2="524.05" stroke="#2e2e2e" stroke-width="1"/>
<text x="62.1" y="528.0" text-anchor="end" font-size="15.3" textLength="17.7" lengthAdjust="spacingAndGlyphs">6.0</text>
<line x1="35.30" y1="548.65" x2="43.70" y2="548.65" stroke="#2e2e2e" stroke-width="1"/>
<text x="62.1" y="552.6" text-anchor="end" font-size="15.3" textLength="17.7" lengthAdjust="spacingAndGlyphs">7.0</text>
<line x1="85.5" y1="548.4" x2="85.5" y2="543.0" stroke="#484848" stroke-width="1.0"/>
<line x1="125.56666666666666" y1="548.4" x2="125.56666666666666" y2="543.0" stroke="#484848" stroke-width="1.0"/>
<line x1="165.63333333333333" y1="548.4" x2="165.63333333333333" y2="543.0" stroke="#484848" stroke-width="1.0"/>
<line x1="205.7" y1="548.4" x2="205.7" y2="543.0" stroke="#484848" stroke-width="1.0"/>
<line x1="245.76666666666665" y1="548.4" x2="245.76666666666665" y2="543.0" stroke="#484848" stroke-width="1.0"/>
<line x1="285.83333333333337" y1="548.4" x2="285.83333333333337" y2="543.0" stroke="#484848" stroke-width="1.0"/>
<line x1="325.9" y1="548.4" x2="325.9" y2="543.0" stroke="#484848" stroke-width="1.0"/>
<text x="13.0" y="507.1" text-anchor="middle" font-size="15.3" transform="rotate(-90 13.0 507.1)" textLength="49.0" lengthAdjust="spacingAndGlyphs">HOMO</text>
<text x="29.2" y="507.1" text-anchor="middle" font-size="15.3" transform="rotate(-90 29.2 507.1)" textLength="64.3" lengthAdjust="spacingAndGlyphs">energy, eV</text>
<polyline points="86.6,481.2 106.5,482 126.39999999999999,482.2 146.29999999999998,483.5 166.2,488 186.1,496.7 206.0,505.8 225.89999999999998,514.5 245.79999999999998,522.3 265.7,530 285.6,524.8 305.5,513.8 325.4,514" fill="none" stroke="#ea2f4c" stroke-width="1.15" stroke-linejoin="round"/>
<rect x="84.10" y="479.35" width="5.0" height="3.7" fill="#e3203f"/>
<rect x="104.00" y="480.15" width="5.0" height="3.7" fill="#e3203f"/>
<rect x="123.90" y="480.35" width="5.0" height="3.7" fill="#e3203f"/>
<rect x="143.80" y="481.65" width="5.0" height="3.7" fill="#e3203f"/>
<rect x="163.70" y="486.15" width="5.0" height="3.7" fill="#e3203f"/>
<rect x="183.60" y="494.85" width="5.0" height="3.7" fill="#e3203f"/>
<rect x="203.50" y="503.95" width="5.0" height="3.7" fill="#e3203f"/>
<rect x="223.40" y="512.65" width="5.0" height="3.7" fill="#e3203f"/>
<rect x="243.30" y="520.45" width="5.0" height="3.7" fill="#e3203f"/>
<rect x="263.20" y="528.15" width="5.0" height="3.7" fill="#e3203f"/>
<rect x="283.10" y="522.95" width="5.0" height="3.7" fill="#e3203f"/>
<rect x="303.00" y="511.95" width="5.0" height="3.7" fill="#e3203f"/>
<rect x="322.90" y="512.15" width="5.0" height="3.7" fill="#e3203f"/>
<line x1="72.30" y1="559.45" x2="80.70" y2="559.45" stroke="#2e2e2e" stroke-width="1"/>
<text x="98.6" y="563.4" text-anchor="end" font-size="15.3" textLength="17.2" lengthAdjust="spacingAndGlyphs">0.3</text>
<line x1="112.37" y1="559.45" x2="120.77" y2="559.45" stroke="#2e2e2e" stroke-width="1"/>
<text x="138.67" y="563.4" text-anchor="end" font-size="15.3" textLength="17.2" lengthAdjust="spacingAndGlyphs">0.2</text>
<line x1="152.43" y1="559.45" x2="160.83" y2="559.45" stroke="#2e2e2e" stroke-width="1"/>
<text x="178.73" y="563.4" text-anchor="end" font-size="15.3" textLength="17.2" lengthAdjust="spacingAndGlyphs">0.1</text>
<text x="205.5" y="563.4" text-anchor="middle" font-size="15.3">0</text>
<text x="245.57" y="563.4" text-anchor="middle" font-size="15.3" textLength="19.0" lengthAdjust="spacingAndGlyphs">0.1</text>
<text x="285.63" y="563.4" text-anchor="middle" font-size="15.3" textLength="19.0" lengthAdjust="spacingAndGlyphs">0.2</text>
<text x="325.7" y="563.4" text-anchor="middle" font-size="15.3" textLength="19.0" lengthAdjust="spacingAndGlyphs">0.3</text>
<text x="202.3" y="580.0" text-anchor="middle" font-size="15.3" textLength="114.6" lengthAdjust="spacingAndGlyphs">Electric field, V/Å</text>
<text x="203.4" y="306.0" text-anchor="middle" font-size="15.3">(c)</text>
</svg>
</body></html>
